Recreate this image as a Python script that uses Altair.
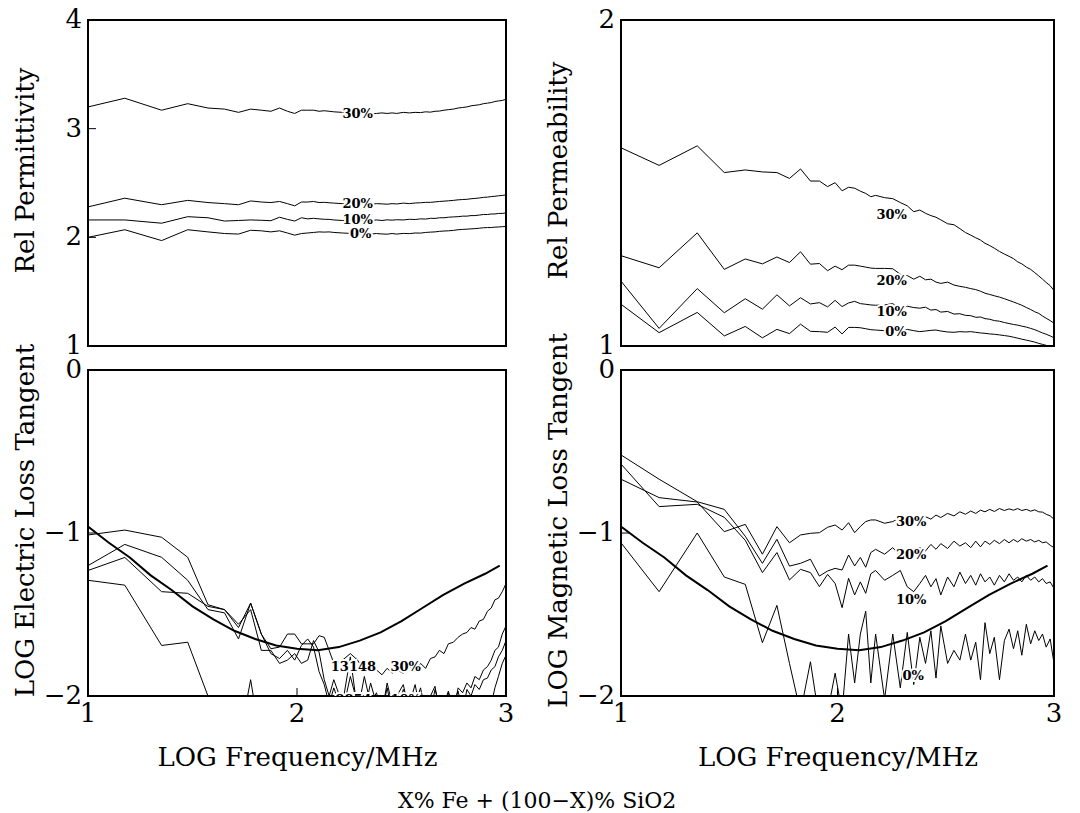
import altair as alt
import pandas as pd
import numpy as np

FONT = "DejaVu Serif"

# Frequencies (MHz) of the measurement points
F = [10, 15, 22.5, 30, 37.5, 45, 52.5, 60, 67.5, 75, 82.5, 90, 97.5, 105, 112.5, 120, 127.5, 135, 142.5, 150,
     165, 180, 195, 210, 225, 240, 255, 270, 285, 300,
     322.5, 345, 367.5, 390, 412.5, 435, 457.5, 480,
     505, 530, 560, 590, 620, 650, 680, 710, 745, 780, 815, 850, 885, 920, 960, 1000]

# Relative permittivity
TL30 = [3.20, 3.28, 3.17, 3.23, 3.19, 3.18, 3.15, 3.18, 3.17, 3.16, 3.19, 3.16, 3.14, 3.17, 3.17, 3.17, 3.16, 3.165, 3.16, 3.155,
        3.15, 3.14, 3.13, 3.14, 3.135, 3.14, 3.145, 3.14, 3.145, 3.14,
        3.15, 3.145, 3.15, 3.148, 3.155, 3.152, 3.16, 3.162,
        3.17, 3.175, 3.18, 3.19, 3.195, 3.20, 3.21, 3.215, 3.22, 3.23, 3.235, 3.24, 3.25, 3.255, 3.26, 3.27]
TL20 = [2.28, 2.36, 2.30, 2.34, 2.32, 2.31, 2.30, 2.335, 2.325, 2.32, 2.33, 2.31, 2.29, 2.325, 2.325, 2.33, 2.32, 2.322, 2.318, 2.315,
        2.31, 2.305, 2.30, 2.31, 2.303, 2.31, 2.308, 2.305, 2.31, 2.307,
        2.315, 2.31, 2.316, 2.318, 2.322, 2.322, 2.326, 2.33,
        2.333, 2.336, 2.34, 2.345, 2.348, 2.35, 2.355, 2.358, 2.362, 2.368, 2.37, 2.375, 2.378, 2.382, 2.386, 2.39]
TL10 = [2.16, 2.16, 2.13, 2.19, 2.18, 2.15, 2.155, 2.16, 2.157, 2.153, 2.185, 2.165, 2.15, 2.18, 2.17, 2.175, 2.17, 2.166, 2.165, 2.16,
        2.155, 2.157, 2.15, 2.156, 2.153, 2.16, 2.155, 2.161, 2.158, 2.162,
        2.16, 2.166, 2.164, 2.17, 2.168, 2.175, 2.174, 2.18,
        2.18, 2.185, 2.188, 2.19, 2.195, 2.195, 2.20, 2.20, 2.205, 2.21, 2.21, 2.215, 2.215, 2.22, 2.22, 2.225]
TL0 = [2.00, 2.07, 1.97, 2.07, 2.05, 2.035, 2.03, 2.065, 2.06, 2.05, 2.06, 2.04, 2.02, 2.035, 2.04, 2.045, 2.05, 2.048, 2.05, 2.045,
       2.04, 2.036, 2.03, 2.036, 2.03, 2.035, 2.031, 2.029, 2.035, 2.03,
       2.036, 2.034, 2.04, 2.039, 2.045, 2.048, 2.05, 2.055,
       2.058, 2.06, 2.064, 2.07, 2.073, 2.075, 2.078, 2.08, 2.084, 2.088, 2.09, 2.09, 2.094, 2.095, 2.098, 2.10]

# Relative permeability
TR30 = [1.608, 1.554, 1.614, 1.532, 1.540, 1.534, 1.532, 1.514, 1.543, 1.506, 1.506, 1.489, 1.501, 1.476, 1.487, 1.484, 1.475, 1.468, 1.458, 1.462,
        1.455, 1.452, 1.44, 1.43, 1.412, 1.417, 1.407, 1.40, 1.395, 1.387,
        1.375, 1.372, 1.36, 1.348, 1.34, 1.332, 1.325, 1.315,
        1.308, 1.30, 1.29, 1.282, 1.275, 1.268, 1.258, 1.252, 1.242, 1.235, 1.225, 1.215, 1.205, 1.195, 1.185, 1.17]
TR20 = [1.277, 1.240, 1.347, 1.235, 1.267, 1.252, 1.273, 1.256, 1.289, 1.251, 1.253, 1.231, 1.245, 1.234, 1.248, 1.248, 1.245, 1.242, 1.239, 1.238,
        1.238, 1.237, 1.22, 1.216, 1.205, 1.214, 1.203, 1.205, 1.196, 1.192,
        1.196, 1.187, 1.183, 1.180, 1.176, 1.173, 1.168, 1.162,
        1.158, 1.154, 1.150, 1.145, 1.140, 1.135, 1.130, 1.125, 1.118, 1.112, 1.105, 1.10, 1.092, 1.085, 1.078, 1.07]
TR10 = [1.199, 1.054, 1.176, 1.102, 1.145, 1.113, 1.157, 1.123, 1.148, 1.129, 1.133, 1.12, 1.14, 1.121, 1.132, 1.137, 1.13, 1.128, 1.126, 1.125,
        1.126, 1.13, 1.112, 1.122, 1.118, 1.116, 1.119, 1.11, 1.112, 1.104,
        1.106, 1.098, 1.099, 1.094, 1.093, 1.088, 1.089, 1.084,
        1.082, 1.078, 1.076, 1.072, 1.069, 1.066, 1.064, 1.061, 1.058, 1.054, 1.05, 1.045, 1.04, 1.036, 1.031, 1.025]
TR0 = [1.128, 1.041, 1.103, 1.031, 1.06, 1.025, 1.051, 1.038, 1.067, 1.045, 1.044, 1.042, 1.058, 1.037, 1.057, 1.057, 1.056, 1.053, 1.05, 1.049,
       1.047, 1.045, 1.044, 1.051, 1.047, 1.044, 1.046, 1.048, 1.049, 1.046,
       1.043, 1.042, 1.044, 1.043, 1.044, 1.042, 1.04, 1.039,
       1.037, 1.036, 1.034, 1.032, 1.03, 1.027, 1.024, 1.021, 1.018, 1.015, 1.012, 1.008, 1.005, 1.002, 0.999, 0.995]

# LOG electric loss tangent
BL30 = [-1.012, -0.982, -1.026, -1.149, -1.44, -1.47, -1.58, -1.43, -1.62, -1.71, -1.70, -1.62, -1.62, -1.68, -1.68, -1.68, -1.63, -1.64, -1.72, -1.80,
        -1.78, -1.74, -1.78, -1.85, -1.80, -1.84, -1.87, -1.83, -1.86, -1.84,
        -1.86, -1.82, -1.85, -1.80, -1.83, -1.77, -1.76, -1.72,
        -1.74, -1.68, -1.67, -1.64, -1.62, -1.61, -1.58, -1.59, -1.54, -1.53, -1.48, -1.46, -1.41, -1.40, -1.36, -1.31]
BL20 = [-1.20, -1.07, -1.149, -1.29, -1.47, -1.49, -1.65, -1.43, -1.62, -1.74, -1.77, -1.72, -1.78, -1.69, -1.65, -1.70, -1.85, -1.93, -2.05, -1.95,
        -2.10, -1.88, -2.05, -2.10, -1.92, -2.05, -2.10, -1.95, -2.10, -2.00,
        -1.93, -2.10, -2.05, -1.95, -2.10, -2.00, -1.94, -2.10,
        -2.05, -1.97, -2.10, -1.95, -1.98, -1.92, -1.95, -1.88, -1.90, -1.84, -1.82, -1.78, -1.72, -1.70, -1.62, -1.57]
BL10 = [-1.23, -1.15, -1.36, -1.37, -1.45, -1.47, -1.56, -1.47, -1.72, -1.72, -1.80, -1.78, -1.74, -1.80, -1.78, -1.66, -1.73, -1.90, -2.00, -1.90,
        -2.05, -1.76, -2.10, -1.88, -2.05, -1.98, -2.10, -1.92, -2.05, -2.10,
        -1.96, -2.05, -1.93, -2.10, -2.02, -2.10, -1.96, -2.05,
        -2.10, -1.98, -2.05, -1.97, -2.10, -1.96, -2.00, -1.93, -1.96, -1.90, -1.89, -1.84, -1.82, -1.76, -1.72, -1.66]
BL0 = [-1.29, -1.32, -1.69, -1.67, -2.00, -2.20, -2.30, -1.90, -2.30, -2.40, -2.40, -2.40, -2.40, -2.40, -2.40, -2.40, -2.40, -2.40, -2.40, -2.40,
       -2.40, -2.40, -2.40, -2.40, -2.40, -2.40, -2.40, -2.40, -2.40, -2.40,
       -2.40, -2.40, -2.40, -2.40, -2.40, -2.40, -2.40, -2.40,
       -2.40, -2.40, -2.40, -2.40, -2.40, -2.35, -2.30, -2.25, -2.20, -2.15, -2.10, -2.05, -1.95, -1.88, -1.80, -1.75]

# LOG magnetic loss tangent
BR30 = [-0.67, -0.783, -0.81, -0.992, -0.947, -1.13, -0.961, -1.06, -1.012, -1.002, -0.998, -0.965, -0.951, -0.982, -0.937, -0.998, -0.96, -0.93, -0.92, -0.92,
        -0.94, -0.93, -0.905, -0.93, -0.91, -0.92, -0.90, -0.915, -0.89, -0.905,
        -0.88, -0.895, -0.87, -0.885, -0.865, -0.88, -0.86, -0.87,
        -0.855, -0.868, -0.85, -0.862, -0.852, -0.86, -0.85, -0.862, -0.855, -0.866, -0.858, -0.87, -0.872, -0.885, -0.895, -0.915]
BR20 = [-0.521, -0.67, -0.808, -0.855, -1.02, -1.186, -1.039, -1.203, -1.186, -1.161, -1.264, -1.233, -1.217, -1.227, -1.135, -1.202, -1.15, -1.21, -1.12, -1.10,
        -1.13, -1.09, -1.14, -1.10, -1.12, -1.09, -1.11, -1.07, -1.10, -1.065,
        -1.095, -1.05, -1.08, -1.06, -1.09, -1.05, -1.085, -1.05,
        -1.07, -1.045, -1.065, -1.04, -1.06, -1.04, -1.055, -1.035, -1.05, -1.04, -1.055, -1.045, -1.06, -1.055, -1.075, -1.09]
BR10 = [-0.577, -0.838, -0.824, -0.904, -1.045, -1.243, -1.12, -1.288, -1.223, -1.243, -1.329, -1.254, -1.309, -1.458, -1.278, -1.38, -1.30, -1.37, -1.25, -1.23,
        -1.29, -1.26, -1.23, -1.33, -1.36, -1.31, -1.26, -1.33, -1.28, -1.38,
        -1.27, -1.33, -1.24, -1.31, -1.26, -1.32, -1.25, -1.30,
        -1.27, -1.32, -1.26, -1.30, -1.25, -1.29, -1.27, -1.30, -1.26, -1.29, -1.27, -1.30, -1.28, -1.31, -1.30, -1.34]
BR0 = [-1.06, -1.36, -1.00, -1.27, -1.315, -1.673, -1.444, -1.80, -2.10, -1.79, -2.15, -2.10, -1.86, -2.10, -1.62, -1.92, -1.62, -1.48, -1.92, -1.62,
       -2.02, -1.62, -1.95, -1.61, -1.93, -1.64, -1.80, -1.60, -1.89, -1.57,
       -1.80, -1.72, -1.78, -1.62, -1.78, -1.67, -1.90, -1.55,
       -1.74, -1.64, -1.90, -1.66, -1.59, -1.71, -1.60, -1.75, -1.56, -1.68, -1.60, -1.66, -1.62, -1.70, -1.65, -1.80]

# Reference (theory) curve drawn in both loss-tangent panels
TH_LOGF = [1.0, 1.1, 1.2, 1.3, 1.4, 1.5, 1.6, 1.7, 1.8, 1.9, 2.0, 2.1, 2.2, 2.3, 2.4, 2.5, 2.6, 2.7, 2.8, 2.9, 2.97]
TH_VAL = [-0.96, -1.06, -1.15, -1.26, -1.35, -1.45, -1.53, -1.60, -1.65, -1.69, -1.71, -1.72, -1.70, -1.66, -1.61, -1.54, -1.46, -1.38, -1.31, -1.25, -1.20]

# Curve labels: (text, log f, value)
TL_LAB = [("30%", 2.29, 3.135), ("20%", 2.29, 2.31), ("10%", 2.29, 2.16), ("0%", 2.305, 2.033)]
TR_LAB = [("30%", 2.25, 1.403), ("20%", 2.25, 1.198), ("10%", 2.25, 1.105), ("0%", 2.27, 1.044)]
BL_LAB = [("13148", 2.27, -1.82), ("30%", 2.52, -1.82), ("8854", 2.27, -2.025), ("10%", 2.52, -2.025)]
BR_LAB = [("30%", 2.34, -0.93), ("20%", 2.34, -1.135), ("10%", 2.34, -1.41), ("0%", 2.35, -1.88)]

# Tick values and their labels
X_TICKS = [1, 2, 3]
X_TICK_LAB = ["1", "2", "3"]
TL_YT, TL_YT_LAB = [1, 2, 3, 4], ["1", "2", "3", "4"]
TR_YT, TR_YT_LAB = [1, 2], ["1", "2"]
LT_YT, LT_YT_LAB = [-2, -1, 0], ["\u22122", "\u22121", "0"]

H = 326


def lines_df(series):
    rows = []
    for name, vals in series.items():
        assert len(vals) == len(F), (name, len(vals))
        for f, v in zip(F, vals):
            rows.append({"logf": float(np.log10(f)), "v": v, "s": name})
    return pd.DataFrame(rows)


def panel(series, ydom, yticks, ylabs, ytitle, labels, width, show_x, yt_inner, xt_inner, theory):
    xs = alt.Scale(domain=[1, 3], nice=False, zero=False)
    ys = alt.Scale(domain=ydom, nice=False, zero=False)
    if show_x:
        xax = alt.Axis(values=X_TICKS, labels=False, title="LOG  Frequency/MHz",
                       titleFontSize=26, titlePadding=16, minExtent=32, maxExtent=32)
    else:
        xax = alt.Axis(values=X_TICKS, labels=False, title=None)
    yax = alt.Axis(values=yticks, labels=False, title=ytitle, titleFontSize=26,
                   titlePadding=12, titleY=150, minExtent=38, maxExtent=38)
    X = alt.X("logf:Q", scale=xs, axis=xax)
    Y = alt.Y("v:Q", scale=ys, axis=yax)

    layers = [
        alt.Chart(lines_df(series)).mark_line(color="black", strokeWidth=1, clip=True)
        .encode(x=X, y=Y, detail="s:N")
    ]
    if theory:
        tdf = pd.DataFrame({"logf": TH_LOGF, "v": TH_VAL})
        layers.append(alt.Chart(tdf).mark_line(color="black", strokeWidth=2, clip=True)
                      .encode(x=X, y=Y))
    ldf = pd.DataFrame(labels, columns=["t", "logf", "v"])
    layers.append(alt.Chart(ldf).mark_text(font=FONT, fontSize=13, fontWeight="bold",
                                           stroke="white", strokeWidth=4, clip=True)
                  .encode(x=X, y=Y, text="t:N"))
    layers.append(alt.Chart(ldf).mark_text(font=FONT, fontSize=13, fontWeight="bold",
                                           color="black", clip=True)
                  .encode(x=X, y=Y, text="t:N"))
    # tick labels
    ydf = pd.DataFrame({"v": yticks, "lab": ylabs})
    layers.append(alt.Chart(ydf).mark_text(font=FONT, fontSize=26, align="right",
                                           baseline="middle", color="black", dx=-6)
                  .encode(y=Y, x=alt.value(0), text="lab:N"))
    if show_x:
        xdf = pd.DataFrame({"logf": X_TICKS, "lab": X_TICK_LAB})
        layers.append(alt.Chart(xdf).mark_text(font=FONT, fontSize=26, align="center",
                                               baseline="top", color="black")
                      .encode(x=X, y=alt.value(H + 5), text="lab:N"))
    if yt_inner:
        layers.append(alt.Chart(pd.DataFrame({"v": yt_inner})).mark_rule(color="black", strokeWidth=1)
                      .encode(y=Y, x=alt.value(0), x2=alt.value(8)))
    if xt_inner:
        layers.append(alt.Chart(pd.DataFrame({"logf": xt_inner})).mark_rule(color="black", strokeWidth=1)
                      .encode(x=X, y=alt.value(H), y2=alt.value(H - 8)))
    return alt.layer(*layers).properties(width=width, height=H)


tl = panel({"0%": TL0, "10%": TL10, "20%": TL20, "30%": TL30}, [1, 4], TL_YT, TL_YT_LAB,
           "Rel  Permittivity", TL_LAB, 418, False, [2, 3], [], False)
tr = panel({"0%": TR0, "10%": TR10, "20%": TR20, "30%": TR30}, [1, 2], TR_YT, TR_YT_LAB,
           "Rel  Permeability", TR_LAB, 433, False, [], [], False)
bl = panel({"0%": BL0, "10%": BL10, "20%": BL20, "30%": BL30}, [-2, 0], LT_YT, LT_YT_LAB,
           "LOG  Electric  Loss  Tangent", BL_LAB, 418, True, [-1], [2], True)
br = panel({"0%": BR0, "10%": BR10, "20%": BR20, "30%": BR30}, [-2, 0], LT_YT, LT_YT_LAB,
           "LOG  Magnetic  Loss  Tangent", BR_LAB, 433, True, [-1], [2], True)

chart = alt.concat(
    tl, tr, bl, br, columns=2, bounds="flush", align="each",
    spacing=alt.RowColnumber(row=24, column=115),
    title=alt.TitleParams("X%  Fe  +  (100\u2212X)%  SiO2", orient="bottom", anchor="middle",
                          fontSize=22, font=FONT, fontWeight="normal", color="black", offset=20),
).properties(
    padding={"left": 2, "top": -2, "right": 5, "bottom": 0}
).configure_view(
    stroke="black", strokeWidth=2
).configure_axis(
    domain=False, ticks=False, grid=False, labelFont=FONT, titleFont=FONT,
    labelColor="black", titleColor="black", titleFontWeight="normal"
)

chart.save("out.html", embed_options={"renderer": "svg", "actions": False})
